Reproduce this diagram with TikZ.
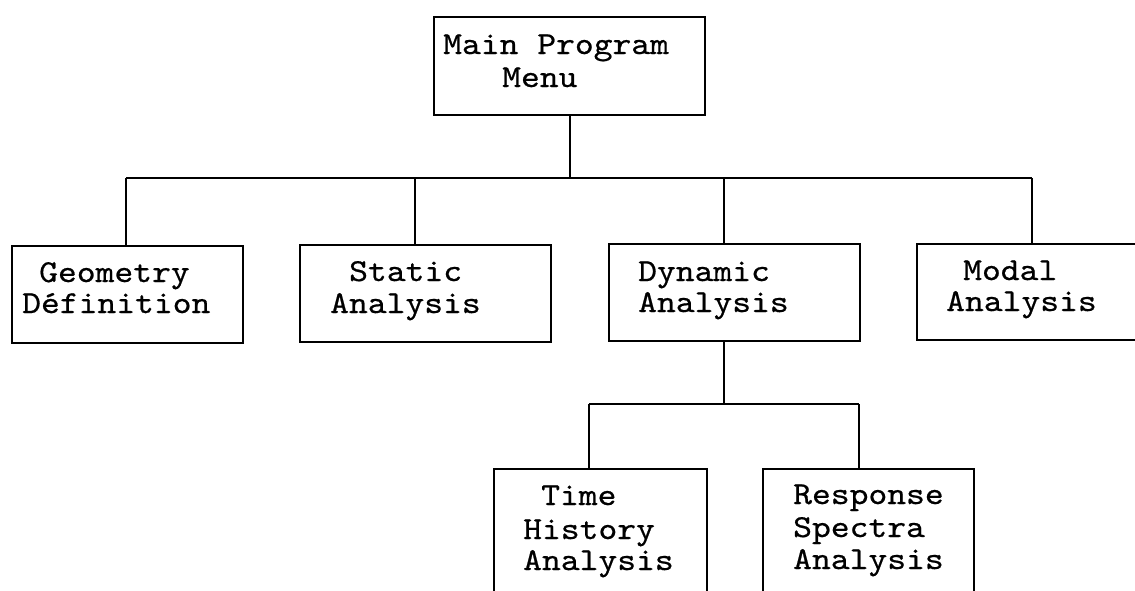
\documentclass[tikz,border=0pt]{standalone}
\usepackage{fontspec}
\newfontfamily\courfont[FakeStretch=1.12,FakeBold=0.6]{lmmono10-regular.otf}
\begin{document}
\begin{tikzpicture}[x=1pt,y=-1pt,
  box/.style={draw=black,line width=2.4pt,rectangle,inner sep=0pt,anchor=north west},
  lbl/.style={inner sep=0pt,anchor=base west,font=\courfont\fontsize{32}{32}\selectfont},
  conn/.style={draw=black,line width=2pt}]
\useasboundingbox (0,0) rectangle (1135,590);
\clip (0,0) rectangle (1135,590);
\fill[white] (0,0) rectangle (1135,590);
% boxes
\node[box,minimum width=271pt,minimum height=98pt] (main) at (433,16) {};
\node[box,minimum width=231pt,minimum height=97pt] (geo) at (11,245) {};
\node[box,minimum width=251pt,minimum height=97pt] (stat) at (299,244) {};
\node[box,minimum width=251pt,minimum height=97pt] (dyn) at (608,243) {};
\node[box,minimum width=232pt,minimum height=96pt] (modal) at (916,243) {};
\node[box,minimum width=213pt,minimum height=150pt] (time) at (493,468) {};
\node[box,minimum width=211pt,minimum height=150pt] (resp) at (762,468) {};
% texts
\node[lbl] (t1a) at (443,54) {Main Program};
\node[lbl] (t1b) at (502,87) {Menu};
\node[lbl] (t2a) at (39,282) {Geometry};
\node[lbl] (t2b) at (22,313) {Définition};
\node[lbl] (t3a) at (349,281) {Static};
\node[lbl] (t3b) at (330,313) {Analysis};
\node[lbl] (t4a) at (638,281) {Dynamic};
\node[lbl] (t4b) at (638,312) {Analysis};
\node[lbl] (t5a) at (963,280) {Modal};
\node[lbl] (t5b) at (946,311) {Analysis};
\node[lbl] (t6a) at (541,505) {Time};
\node[lbl] (t6b) at (523,539) {History};
\node[lbl] (t6c) at (523,570) {Analysis};
\node[lbl] (t7a) at (793,504) {Response};
\node[lbl] (t7b) at (793,537) {Spectra};
\node[lbl] (t7c) at (793,569) {Analysis};
% bus coordinates
\coordinate (bus) at (569,178);
\coordinate (jg) at (126,178);
\coordinate (js) at (415,178);
\coordinate (jd) at (724,178);
\coordinate (jm) at (1032,178);
\coordinate (sub) at (724,404);
\coordinate (jt) at (589,404);
\coordinate (jr) at (859,404);
% connectors
\draw[conn] (main.south) -- (main.south |- bus);
\draw[conn] (jg) -- (jm);
\draw[conn] (jg) -- (jg |- geo.north);
\draw[conn] (js) -- (js |- stat.north);
\draw[conn] (jd) -- (jd |- dyn.north);
\draw[conn] (jm) -- (jm |- modal.north);
\draw[conn] (sub |- dyn.south) -- (sub);
\draw[conn] (jt) -- (jr);
\draw[conn] (jt) -- (jt |- time.north);
\draw[conn] (jr) -- (jr |- resp.north);
\end{tikzpicture}
\end{document}
